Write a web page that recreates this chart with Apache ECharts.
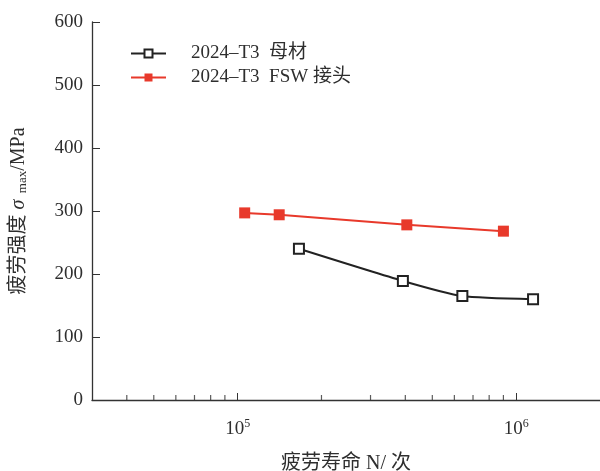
<!DOCTYPE html>
<html>
<head>
<meta charset="utf-8">
<script src="https://cdn.jsdelivr.net/npm/echarts@6/dist/echarts.min.js"></script>
<style>html,body{margin:0;padding:0;background:#fff;}#c{width:600px;height:471px;}</style>
</head>
<body>
<div id="c"></div>
<script>
// Data
const seriesNames = ['2024–T3  母材', '2024–T3  FSW 接头'];
const baseN = [1.66e5, 3.92e5, 6.41e5, 1.15e6];
const baseS = [240, 189, 165, 160];
const fswN = [1.06e5, 1.41e5, 4.05e5, 9.0e5];
const fswS = [297, 294, 278, 268];
const yTicks = [0, 100, 200, 300, 400, 500, 600];
const minorTickValues = [4e4, 5e4, 6e4, 7e4, 8e4, 9e4, 2e5, 3e5, 4e5, 5e5, 6e5, 7e5, 8e5, 9e5];

const serif = '"Liberation Serif", "Times New Roman", "Noto Sans CJK SC", serif';
const txt = '#2e2e2e';
const chart = echarts.init(document.getElementById('c'), null, {renderer: 'canvas'});
const pair = (xs, ys) => xs.map((x, i) => [x, ys[i]]);

chart.setOption({
  backgroundColor: '#fff',
  animation: false,
  grid: {left: 92, top: 22, right: 0, bottom: 71, containLabel: false, outerBoundsMode: 'none'},
  legend: {
    left: 130, top: 44, orient: 'vertical', padding: 0,
    itemWidth: 35, itemHeight: 10, itemGap: 5,
    data: seriesNames,
    textStyle: {fontFamily: serif, fontSize: 19, color: txt, padding: [0, 0, 0, 20]}
  },
  xAxis: {
    type: 'log', logBase: 10, min: 3e4, max: 2e6,
    name: '疲劳寿命 N/ 次', nameLocation: 'middle', nameGap: 54,
    nameTextStyle: {fontFamily: serif, fontSize: 20, color: txt},
    axisLine: {lineStyle: {color: '#333', width: 1.3}},
    axisTick: {show: true, inside: true, length: 7, lineStyle: {color: '#333'}},
    splitLine: {show: false},
    minorTick: {show: false},
    axisLabel: {
      margin: 18,
      formatter: function (v) {
        const e = Math.log10(v);
        if (Math.abs(e - Math.round(e)) < 1e-6) return '{b|10}{s|' + Math.round(e) + '}';
        return '';
      },
      rich: {
        b: {fontFamily: serif, fontSize: 19, color: txt},
        s: {fontFamily: serif, fontSize: 12, color: txt, padding: [0, 0, 10, 0]}
      }
    }
  },
  yAxis: {
    type: 'value', min: yTicks[0], max: yTicks[yTicks.length - 1], interval: 100,
    name: '{c|疲劳强度 }{g|σ}{m|  max}{c|/MPa}', nameLocation: 'middle', nameGap: 63,
    nameTextStyle: {
      rich: {
        c: {fontFamily: serif, fontSize: 20, color: txt},
        g: {fontFamily: serif, fontSize: 20, color: txt, fontStyle: 'italic'},
        m: {fontFamily: serif, fontSize: 13, color: txt, padding: [8, 0, 0, 0]}
      }
    },
    axisLine: {show: true, lineStyle: {color: '#333', width: 1.3}},
    axisTick: {show: true, inside: true, length: 8, lineStyle: {color: '#333'}},
    splitLine: {show: false},
    axisLabel: {fontFamily: serif, fontSize: 19, color: txt, margin: 9}
  },
  series: [
    {
      name: seriesNames[0], type: 'line', data: pair(baseN, baseS), smooth: 0.2,
      symbol: 'rect', symbolSize: 10,
      lineStyle: {color: '#222', width: 2},
      itemStyle: {color: '#fff', borderColor: '#222', borderWidth: 2}
    },
    {
      name: seriesNames[1], type: 'line', data: pair(fswN, fswS),
      symbol: 'rect', symbolSize: 11,
      lineStyle: {color: '#e8392b', width: 2},
      itemStyle: {color: '#e8392b', borderColor: '#e8392b', borderWidth: 0}
    },
    {
      name: 'minorTicks', type: 'scatter', silent: true, clip: false,
      data: minorTickValues.map(v => [v, 0]),
      symbol: 'rect', symbolSize: [1.2, 5], symbolOffset: [0, -2.5],
      itemStyle: {color: '#333'}, z: 1
    }
  ]
});
</script>
</body>
</html>
